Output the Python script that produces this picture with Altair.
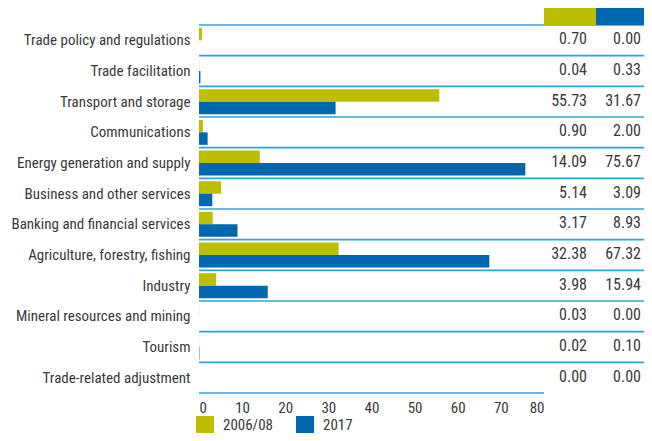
import altair as alt
import pandas as pd

categories = [
    "Trade policy and regulations",
    "Trade facilitation",
    "Transport and storage",
    "Communications",
    "Energy generation and supply",
    "Business and other services",
    "Banking and financial services",
    "Agriculture, forestry, fishing",
    "Industry",
    "Mineral resources and mining",
    "Tourism",
    "Trade-related adjustment",
]
series = ["2006/08", "2017"]
values_2006 = [0.70, 0.04, 55.73, 0.90, 14.09, 5.14, 3.17, 32.38, 3.98, 0.03, 0.02, 0.00]
values_2017 = [0.00, 0.33, 31.67, 2.00, 75.67, 3.09, 8.93, 67.32, 15.94, 0.00, 0.10, 0.00]
x_ticks = [0, 10, 20, 30, 40, 50, 60, 70, 80]
colors = ["#BDBE00", "#0068B1"]

FONT = "Roboto Condensed, Liberation Sans Narrow, sans-serif"
TXT = "#3a3a3a"
LINE = "#29A6E0"
FS = 15

rows = []
for c, a, b in zip(categories, values_2006, values_2017):
    rows.append({"category": c, "series": series[0], "value": a})
    rows.append({"category": c, "series": series[1], "value": b})
df = pd.DataFrame(rows)
cat_df = pd.DataFrame({"category": categories})
head_df = pd.DataFrame({"series": series})

color = alt.Color(
    "series:N",
    sort=series,
    scale=alt.Scale(domain=series, range=colors),
    legend=alt.Legend(
        orient="none", legendX=-3, legendY=391, direction="horizontal",
        title=None, symbolType="square", symbolSize=324, symbolStrokeWidth=0,
        symbolOpacity=1, labelFontSize=FS, labelOffset=9, columnPadding=23,
        padding=0, labelColor=TXT, labelFont=FONT,
    ),
)

xenc = alt.X(
    "value:Q",
    scale=alt.Scale(domain=[0, 80], range=[0, 345], nice=False),
    axis=alt.Axis(values=x_ticks, domain=False, ticks=False, grid=False,
                  labelPadding=7, labelFontSize=FS, labelColor=TXT,
                  labelFont=FONT, title=None),
)
yenc = alt.Y(
    "category:N", sort=categories,
    scale=alt.Scale(paddingInner=0, paddingOuter=0),
    axis=alt.Axis(domain=False, ticks=False, grid=False, labelPadding=9,
                  labelFontSize=FS, labelColor=TXT, labelFont=FONT,
                  labelLimit=0, title=None),
)

rules = alt.Chart(cat_df).mark_rule(color=LINE, strokeWidth=1.6).encode(
    y=alt.Y("category:N", sort=categories, bandPosition=0),
)
bottom = alt.Chart(cat_df.head(1)).mark_rule(color=LINE, strokeWidth=1.6).encode(
    x=alt.datum(0), x2=alt.datum(80), y=alt.value(368)
)

bars = alt.Chart(df).mark_bar().encode(
    x=xenc,
    y=yenc,
    yOffset=alt.YOffset("series:N", sort=series,
                        scale=alt.Scale(paddingOuter=0.227, paddingInner=0)),
    color=color,
)

def value_text(s, xpos):
    return alt.Chart(df).transform_filter(alt.datum.series == s).mark_text(
        align="right", baseline="middle", dy=-1, fontSize=FS + 1, font=FONT, color=TXT
    ).encode(
        y=alt.Y("category:N", sort=categories),
        x=alt.value(xpos),
        text=alt.Text("value:Q", format=".2f"),
    )

def header(s, x1, x2):
    return alt.Chart(head_df).transform_filter(alt.datum.series == s).mark_rect().encode(
        x=alt.value(x1), x2=alt.value(x2), y=alt.value(-20), y2=alt.value(0),
        color=color,
    )

chart = alt.layer(
    rules, bottom, bars,
    value_text(series[0], 388), value_text(series[1], 442),
    header(series[0], 345, 397), header(series[1], 397, 445),
).properties(
    width=445, height=368,
    autosize=alt.AutoSizeParams(type="none"),
    padding={"left": 191, "top": 17, "right": 0, "bottom": 40},
).configure(font=FONT).configure_view(stroke=None)

chart.save("out.html", embed_options={"renderer": "svg", "actions": False})
